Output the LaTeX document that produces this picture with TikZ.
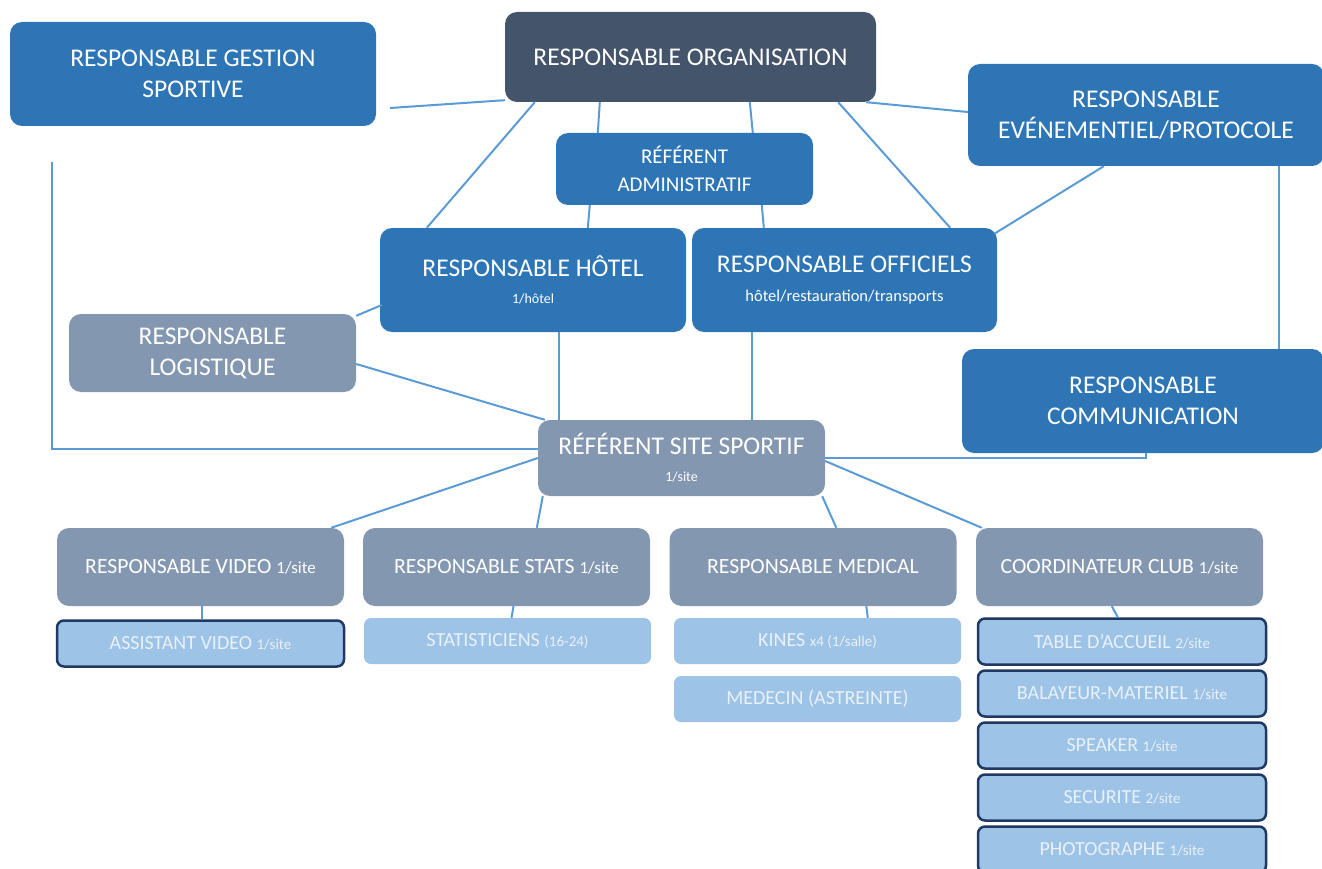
\documentclass[tikz,border=0pt]{standalone}
\usepackage{fontspec}
\setmainfont{Carlito}
\definecolor{mblue}{HTML}{2E75B6}
\definecolor{dblue}{HTML}{44546A}
\definecolor{gblue}{HTML}{8497B0}
\definecolor{lblue}{HTML}{9DC3E6}
\definecolor{navyb}{HTML}{1F3864}
\definecolor{lnk}{HTML}{5B9BD5}
\definecolor{ltext}{HTML}{E9F1F9}
\newcommand\fmain{\fontsize{25.5}{31}\selectfont}
\newcommand\fadm{\fontsize{21}{28}\selectfont}
\newcommand\frow{\fontsize{21.7}{26}\selectfont}
\newcommand\flight{\fontsize{20}{24}\selectfont}
\newcommand\fsub{\fontsize{15}{18}\selectfont}
\newcommand\frsub{\fontsize{17}{20}\selectfont}
\newcommand\foff{\fontsize{16.5}{20}\selectfont}
\newcommand\fsmall{\fontsize{14}{17}\selectfont}
\begin{document}
\begin{tikzpicture}[x=1pt,y=-1pt,
  box/.style={rectangle, rounded corners=12pt, inner sep=0pt, align=center, text=white},
  bigbox/.style={box, fill=mblue, font=\fmain},
  orgbox/.style={box, fill=dblue, font=\fmain},
  admbox/.style={box, fill=mblue, font=\fadm},
  greybox/.style={box, fill=gblue},
  rowbox/.style={box, fill=gblue, font=\frow, minimum width=287pt, minimum height=78pt},
  lightbox/.style={box, rounded corners=7pt, fill=lblue, text=ltext, font=\flight, minimum width=287pt, minimum height=46pt},
  framedbox/.style={lightbox, draw=navyb, line width=2.5pt},
  conn/.style={draw=lnk, line width=2pt}
]
\useasboundingbox (0,0) rectangle (1322,869);

% top level
\node[orgbox, minimum width=371pt, minimum height=90pt] (org) at (690.5,57) {RESPONSABLE ORGANISATION};
\node[bigbox, minimum width=366pt, minimum height=104pt] (gest) at (193,74) {RESPONSABLE GESTION\\SPORTIVE};
\node[bigbox, minimum width=356pt, minimum height=102pt] (event) at (1146,115) {RESPONSABLE\\EVÉNEMENTIEL/PROTOCOLE};
\node[admbox, minimum width=257pt, minimum height=72pt] (admin) at (684.5,169) {RÉFÉRENT\\ADMINISTRATIF};
\node[bigbox, minimum width=306pt, minimum height=104pt] (hotel) at (533,280) {RESPONSABLE HÔTEL\\[-4pt]{\fsmall 1/hôtel}}; 
\node[bigbox, minimum width=305pt, minimum height=104pt] (off) at (844.5,280) {RESPONSABLE OFFICIELS\\[-2pt]{\foff hôtel/restauration/transports}};
\node[greybox, font=\fmain, minimum width=287pt, minimum height=78pt] (log) at (212.5,353) {RESPONSABLE\\LOGISTIQUE};
\node[bigbox, minimum width=362pt, minimum height=104pt] (comm) at (1143,401) {RESPONSABLE\\COMMUNICATION};
\node[greybox, font=\fmain, minimum width=287pt, minimum height=76pt] (site) at (681.5,458) {RÉFÉRENT SITE SPORTIF\\[-4pt]{\fsmall 1/site}};

% row
\node[rowbox] (video) at (200.5,567) {RESPONSABLE VIDEO {\frsub 1/site}};
\node[rowbox] (stats) at (506.5,567) {RESPONSABLE STATS {\frsub 1/site}};
\node[rowbox] (med) at (813,567) {RESPONSABLE MEDICAL};
\node[rowbox] (coord) at (1119.5,567) {COORDINATEUR CLUB {\frsub 1/site}};

% bottom
\node[framedbox] (assist) at (200.5,643.5) {ASSISTANT VIDEO {\fsub 1/site}};
\node[lightbox] (statis) at (507.5,641) {STATISTICIENS {\fsub (16-24)}};
\node[lightbox] (kines) at (817.5,641) {KINES {\fsub x4 (1/salle)}};
\node[lightbox] (medecin) at (817.5,699) {MEDECIN (ASTREINTE)};
\node[framedbox, minimum width=288pt] (table) at (1122,641.5) {TABLE D’ACCUEIL {\fsub 2/site}};
\node[framedbox, minimum width=288pt] (balai) at (1122,693.5) {BALAYEUR-MATERIEL {\fsub 1/site}};
\node[framedbox, minimum width=288pt] (speaker) at (1122,745.5) {SPEAKER {\fsub 1/site}};
\node[framedbox, minimum width=288pt] (secu) at (1122,797.5) {SECURITE {\fsub 2/site}};
\node[framedbox, minimum width=288pt] (photo) at (1122,849.5) {PHOTOGRAPHE {\fsub 1/site}};

% connectors
\coordinate (gl) at (52,162);
\draw[conn] ([xshift=14pt,yshift=-34pt]gest.east) -- ([yshift=2pt]org.south west);
\draw[conn] (gl) |- ([yshift=9pt]site.west);
\draw[conn] ([xshift=30pt]org.south west) -- ([xshift=47pt]hotel.north west);
\draw[conn] ([xshift=95pt]org.south west) -- ([xshift=42pt]admin.north west);
\draw[conn] ([xshift=245pt]org.south west) -- ([xshift=197pt]admin.north west);
\draw[conn] ([xshift=-38pt]org.south east) -- ([xshift=-47pt]off.north east);
\draw[conn] ([xshift=-10pt]org.south east) -- ([yshift=3pt]event.west);
\draw[conn] ([xshift=34pt]admin.south west) -- ([xshift=208pt]hotel.north west);
\draw[conn] ([xshift=206pt]admin.south west) -- ([xshift=72pt]off.north west);
\draw[conn] ([xshift=136pt]event.south west) -- ([xshift=-3pt,yshift=-6pt]off.north east);
\draw[conn] ([xshift=-45pt]event.south east) -- ([xshift=-45pt]comm.north east);
\draw[conn] ([xshift=2pt,yshift=-25pt]hotel.west) -- ([yshift=-2pt]log.north east);
\draw[conn] ([xshift=179pt]hotel.south west) -- ([xshift=21pt]site.north west);
\draw[conn] ([xshift=60pt]off.south west) -- ([xshift=214pt]site.north west);
\draw[conn] ([yshift=-11pt]log.east) -- ([xshift=7pt]site.north west);
\draw[conn] ([xshift=3pt]comm.south) |- (site.east);
\draw[conn] (site.west) -- ([xshift=-13pt]video.north east);
\draw[conn] ([xshift=5pt]site.south west) -- ([xshift=174pt]stats.north west);
\draw[conn] ([xshift=-3pt]site.south east) -- ([xshift=167pt]med.north west);
\draw[conn] ([yshift=-3pt]site.east) -- ([xshift=6pt]coord.north west);
\draw[conn] ([xshift=1.5pt]video.south) -- ([xshift=1.5pt]assist.north);
\draw[conn] ([xshift=7pt]stats.south) -- ([xshift=4pt]statis.north);
\draw[conn] ([xshift=197pt]med.south west) -- ([xshift=194pt]kines.north west);
\draw[conn] ([xshift=136pt]coord.south west) -- ([xshift=141pt]table.north west);
\end{tikzpicture}
\end{document}
